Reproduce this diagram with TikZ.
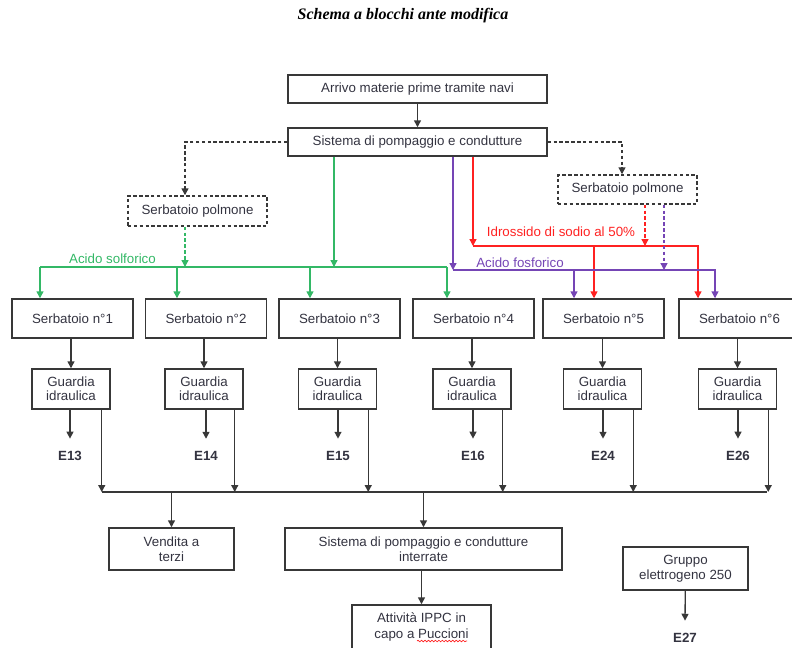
\documentclass[tikz,border=0pt]{standalone}
\usepackage{fontspec}
\setmainfont{Liberation Sans}
\newfontfamily\titolofont{Liberation Serif}
\usepackage{tikz}
\usetikzlibrary{calc}
\usetikzlibrary{arrows.meta}
\usetikzlibrary{decorations.pathmorphing}
\definecolor{verde}{rgb}{0.2,0.72,0.4}
\definecolor{viola}{rgb}{0.46,0.27,0.71}
\definecolor{rosso}{rgb}{1.,0.13,0.13}
\definecolor{grigio}{rgb}{0.22,0.22,0.22}
\definecolor{testo}{rgb}{0.2,0.2,0.25}
\tikzset{
  blocco/.style={draw=grigio,line width=1.1pt,align=center,inner sep=0pt,text=testo,
    font=\fontsize{10}{11.5}\selectfont},
  polmone/.style={blocco,dash pattern=on 2.6pt off 1.8pt},
  serb/.style={blocco,minimum width=90.75pt,minimum height=29.25pt},
  guardia/.style={blocco,minimum width=58.5pt,minimum height=30pt,font=\fontsize{10}{10.5}\selectfont},
  etich/.style={font=\fontsize{10}{12}\selectfont\bfseries,text=testo,inner xsep=0pt,inner ysep=9pt},
  tratt/.style={dash pattern=on 2.6pt off 1.8pt},
  flusso/.style={font=\fontsize{10}{12}\selectfont,inner sep=0pt}
}

\begin{document}
\begin{tikzpicture}[line cap=butt,line join=miter,>={Triangle[length=5.2pt,width=5.2pt]},x=0.75pt,y=-0.75pt,line width=1pt,draw=grigio]
\clip (0,0) rectangle (792,647);
\node[font=\titolofont\bfseries\itshape\fontsize{12}{14}\selectfont] (titolo) at (403,16) {Schema a blocchi ante modifica};
\node[blocco,minimum width=194.25pt,minimum height=21pt] (arrivo) at (417.5,89) {Arrivo materie prime tramite navi};
\node[blocco,minimum width=194.25pt,minimum height=21pt] (sistema) at (417.5,142) {Sistema di pompaggio e condutture};
\node[polmone,minimum width=104.25pt,minimum height=22.5pt] (polmone1) at (197.5,211) {Serbatoio polmone};
\node[polmone,minimum width=104.25pt,minimum height=21.75pt] (polmone2) at (627.5,189.5) {Serbatoio polmone};
\node[serb] (s1) at (72.5,318.5) {Serbatoio n°1};
\node[serb] (s2) at (206,318.5) {Serbatoio n°2};
\node[serb] (s3) at (339.5,318.5) {Serbatoio n°3};
\node[serb] (s4) at (473.5,318.5) {Serbatoio n°4};
\node[serb] (s5) at (603.5,318.5) {Serbatoio n°5};
\node[serb] (s6) at (739.5,318.5) {Serbatoio n°6};
\node[guardia] (g1) at (71,389) {Guardia\\idraulica};
\node[guardia] (g2) at (204,389) {Guardia\\idraulica};
\node[guardia] (g3) at (337.5,389) {Guardia\\idraulica};
\node[guardia] (g4) at (472,389) {Guardia\\idraulica};
\node[guardia] (g5) at (602.5,389) {Guardia\\idraulica};
\node[guardia] (g6) at (737.5,389) {Guardia\\idraulica};
\node[etich] (e1) at (70,456) {E13};
\node[etich] (e2) at (206,456) {E14};
\node[etich] (e3) at (338,456) {E15};
\node[etich] (e4) at (473,456) {E16};
\node[etich] (e5) at (603,456) {E24};
\node[etich] (e6) at (738,456) {E26};
\node[blocco,minimum width=93.75pt,minimum height=31.5pt] (vendita) at (171.5,549) {Vendita a\\terzi};
\node[blocco,minimum width=207.75pt,minimum height=31.5pt] (interrate) at (423.5,549) {Sistema di pompaggio e condutture\\interrate};
\node[blocco,minimum width=104.25pt,minimum height=33pt] (attivita) at (421.5,627) {Attività IPPC in\\capo a Puccioni};
\node[blocco,minimum width=93.75pt,minimum height=32.25pt] (gruppo) at (685.5,568.5) {Gruppo\\elettrogeno 250};
\node[etich] (e27) at (685,638) {E27};
\node[flusso,text=verde] (solforico) at (112.5,259) {Acido solforico};
\node[flusso,text=rosso] (idrossido) at (561,232) {Idrossido di sodio al 50\%};
\node[flusso,text=viola] (fosforico) at (520,263) {Acido fosforico};
\coordinate (gomito1) at (185,142);
\coordinate (gomito2) at (622,142);
\coordinate (v0) at (334,267);
\coordinate (v1) at (40,267);
\coordinate (v2) at (177,267);
\coordinate (v3) at (310,267);
\coordinate (v4) at (447,267);
\coordinate (r1) at (473,246);
\coordinate (r2) at (698,246);
\coordinate (r3) at (594,246);
\coordinate (r4) at (645,246);
\coordinate (p1) at (453,270);
\coordinate (p2) at (715,270);
\coordinate (p3) at (574,270);
\coordinate (p4) at (664,270);
\coordinate (colL) at (102,492);
\coordinate (colR) at (767,492);
\draw[->] (arrivo) -- (sistema);
\draw[->,tratt] (sistema.west) -- (gomito1) -- (gomito1 |- polmone1.north);
\draw[->,tratt] (sistema.east) -- (gomito2) -- (gomito2 |- polmone2.north);
\draw[->,verde] (sistema.south -| v0) -- (v0);
\draw[->,tratt,verde] (gomito1 |- polmone1.south) -- (gomito1 |- v1);
\draw[verde] (v1) -- (v4);
\draw[->,verde] (v1) -- (v1 |- s1.north);
\draw[->,verde] (v2) -- (v2 |- s2.north);
\draw[->,verde] (v3) -- (v3 |- s3.north);
\draw[->,verde] (v4) -- (v4 |- s4.north);
\draw[->,rosso] (sistema.south -| r1) -- (r1);
\draw[->,rosso] (r1) -- (r2) -- (r2 |- s6.north);
\draw[->,rosso] (r3) -- (r3 |- s5.north);
\draw[->,tratt,rosso] (r4 |- polmone2.south) -- (r4);
\draw[->,viola] (sistema.south -| p1) -- (p1);
\draw[->,viola] (p1) -- (p2) -- (p2 |- s6.north);
\draw[->,viola] (p3) -- (p3 |- s5.north);
\draw[->,tratt,viola] (p4 |- polmone2.south) -- (p4);
\foreach \i in {1,...,6} {
  \draw[->] (g\i.north |- s\i.south) -- (g\i.north);
  \draw[->] (e\i.north |- g\i.south) -- (e\i.north);
  \draw[->] ($(g\i.south east)+(-9,0)$) coordinate (t\i) -- (t\i |- colL);
}
\draw (colL) -- (colR);
\draw[->] (colL -| vendita) -- (vendita.north);
\draw[->] (colL -| interrate) -- (interrate.north);
\draw[->] (interrate.south -| attivita) -- (attivita.north);
\draw[->] (gruppo) -- (e27.north);
\draw[rosso,line width=0.5pt,decorate,decoration={snake,amplitude=0.6pt,segment length=2.6pt}] (417,641) -- (467,641);
\end{tikzpicture}
\end{document}
